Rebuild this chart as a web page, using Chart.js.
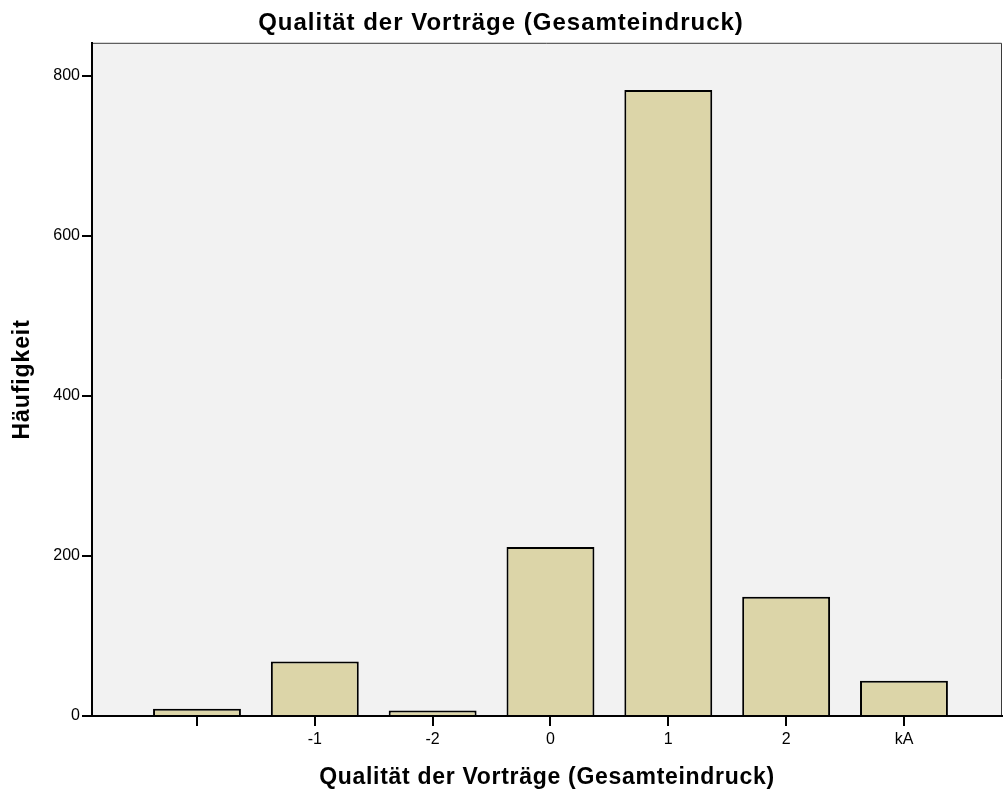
<!DOCTYPE html>
<html>
<head>
<meta charset="utf-8">
<script src="https://cdn.jsdelivr.net/npm/chart.js@4"></script>
<style>
  body { margin: 0; background: #fff; }
  #wrap { width: 1003px; height: 794px; position: relative; }
</style>
</head>
<body>
<div id="wrap"><canvas id="qualityChart"></canvas></div>
<script>
const categories = ['', '-1', '-2', '0', '1', '2', 'kA'];
const counts = [9, 68, 7, 211, 782, 149, 44];
const yTicks = [0, 200, 400, 600, 800];

const titleText = 'Qualität der Vorträge (Gesamteindruck)';
const fontFamily = "'Liberation Sans', Arial, sans-serif";

/** plot background and frame */
const plotFrame = {
  id: 'plotFrame',
  beforeDraw(chart) {
    const { ctx, chartArea: a } = chart;
    ctx.save();
    ctx.fillStyle = '#f2f2f2';
    ctx.fillRect(a.left, a.top, a.right - a.left, a.bottom - a.top);
    ctx.strokeStyle = '#3a3a3a';
    ctx.lineWidth = 1;
    ctx.beginPath();
    ctx.moveTo(a.left, a.top + 0.5);
    ctx.lineTo(a.right - 0.5, a.top + 0.5);
    ctx.lineTo(a.right - 0.5, a.bottom);
    ctx.stroke();
    ctx.restore();
  },
};

// SPSS draws its titles a bit wider than Arial, so space the letters out
function spaced(chart, obj, fn, spacing) {
  if (!obj || obj['_spaced' + fn]) return;
  const orig = obj[fn].bind(obj);
  obj[fn] = function (...args) {
    chart.ctx.save();
    chart.ctx.letterSpacing = spacing;
    orig(...args);
    chart.ctx.restore();
  };
  obj['_spaced' + fn] = true;
}

const spacedTitles = {
  id: 'spacedTitles',
  afterUpdate(chart) {
    spaced(chart, chart.titleBlock, 'draw', '1px');
    spaced(chart, chart.scales.x, 'drawTitle', '0.7px');
    spaced(chart, chart.scales.y, 'drawTitle', '0.9px');
  },
};

Chart.defaults.font.family = fontFamily;
Chart.defaults.color = '#000';

new Chart(document.getElementById('qualityChart'), {
  type: 'bar',
  data: {
    datasets: [{
      label: 'Häufigkeit',
      data: counts.map((v, i) => ({ x: i, y: v })),
      backgroundColor: '#dcd5a8',
      borderColor: '#000',
      borderWidth: 2,
      barPercentage: 0.746,
      categoryPercentage: 1,
    }],
  },
  options: {
    responsive: true,
    maintainAspectRatio: false,
    animation: false,
    layout: { padding: { left: 0, right: 1, top: 0, bottom: 0 } },
    plugins: {
      legend: { display: false },
      tooltip: { enabled: false },
      title: {
        display: true,
        text: titleText,
        font: { size: 24, weight: 'bold' },
        padding: { top: 9, bottom: 5 },
      },
    },
    scales: {
      x: {
        type: 'linear',
        offset: false,
        min: -0.891,
        max: 6.832,
        afterBuildTicks: (scale) => {
          scale.ticks = categories.map((_, i) => ({ value: i }));
        },
        afterFit: (scale) => { scale.height = 78; },
        ticks: {
          callback: (v) => categories[v],
          font: { size: 16 },
          padding: 4,
          maxRotation: 0,
          autoSkip: false,
        },
        grid: {
          display: true,
          offset: false,
          drawOnChartArea: false,
          drawTicks: true,
          tickLength: 10,
          color: '#000',
          lineWidth: 2,
        },
        border: { display: true, color: '#000', width: 2 },
        title: {
          display: true,
          text: titleText,
          font: { size: 23, weight: 'bold' },
          padding: { top: 2, bottom: 3 },
        },
      },
      y: {
        min: 0,
        max: 841,
        afterBuildTicks: (scale) => {
          scale.ticks = yTicks.map((v) => ({ value: v }));
        },
        afterFit: (scale) => { scale.width = 92; },
        ticks: {
          font: { size: 16 },
          padding: 2,
        },
        grid: {
          display: true,
          drawOnChartArea: false,
          drawTicks: true,
          tickLength: 10,
          color: '#000',
          lineWidth: 2,
        },
        border: { display: true, color: '#000', width: 2 },
        title: {
          display: true,
          text: 'Häufigkeit',
          font: { size: 23, weight: 'bold' },
          padding: { top: 9, bottom: 4 },
        },
      },
    },
  },
  plugins: [plotFrame, spacedTitles],
});
</script>
</body>
</html>
